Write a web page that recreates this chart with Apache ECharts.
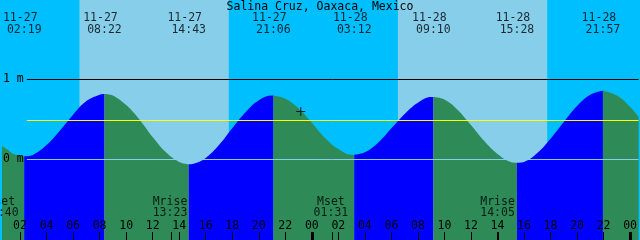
<!DOCTYPE html>
<html><head><meta charset="utf-8">
<script src="https://cdn.jsdelivr.net/npm/echarts@6/dist/echarts.min.js"></script>
<style>html,body{margin:0;padding:0;background:#00BFFF}#c{width:640px;height:240px}</style>
</head><body><div id="c"></div>
<script>
// ---- data (hours counted from 11-27 00:00, heights in metres) ----
const chartTitle = 'Salina Cruz, Oaxaca, Mexico';
const curveHours = [0.64, 1.0, 1.5, 2.317, 3, 4, 5, 6, 7, 8, 8.367, 9, 10, 11, 12, 13, 14, 14.717,
  15, 16, 17, 18, 19, 20, 21, 21.1, 22, 23, 24, 25, 26, 27, 27.2, 28, 29, 30, 31, 32, 33, 33.167,
  34, 35, 36, 37, 38, 39, 39.467, 40, 41, 42, 43, 44, 45, 45.95, 47, 48, 48.64];
const curveHeights = [0.17, 0.13, 0.07, 0.04, 0.06, 0.18, 0.36, 0.56, 0.73, 0.81, 0.82, 0.80, 0.68, 0.50, 0.28, 0.09, -0.03, -0.06,
  -0.056, 0.02, 0.18, 0.39, 0.59, 0.74, 0.80, 0.80, 0.76, 0.64, 0.46, 0.27, 0.13, 0.06, 0.06, 0.09, 0.21, 0.39, 0.57, 0.71, 0.78, 0.78,
  0.75, 0.62, 0.43, 0.23, 0.07, -0.03, -0.04, -0.03, 0.08, 0.26, 0.47, 0.67, 0.81, 0.86, 0.80, 0.66, 0.53];
const extremeHours = [2.317, 8.367, 14.717, 21.1, 27.2, 33.167, 39.467, 45.95];
const extremeDates = ['11-27', '11-27', '11-27', '11-27', '11-28', '11-28', '11-28', '11-28'];
const extremeTimes = ['02:19', '08:22', '14:43', '21:06', '03:12', '09:10', '15:28', '21:57'];
const moonHours = [0.667, 13.383, 25.517, 38.083];
const moonNames = ['Mset', 'Mrise', 'Mset', 'Mrise'];
const moonTimes = ['00:40', '13:23', '01:31', '14:05'];
const sunriseHours = [6.48, 30.49];
const sunsetHours = [17.74, 41.75];
const hourTicks = [2, 4, 6, 8, 10, 12, 14, 16, 18, 20, 22, 24, 26, 28, 30, 32, 34, 36, 38, 40, 42, 44, 46, 48];
const midnightHours = [24, 48];
const labelledLevels = [0, 1];
const markLevel = 0.488;
const nowPoint = [23.17, 0.6];
const axisStart = 0.64, axisEnd = 48.64;

// ---- layout ----
const W = 640, H = 240;
const yMin = -1.00625, yMax = 1.99375;
const FONT = 'DejaVu Sans Mono';
const FS = 11.5;
const yAt = p => yMin + (H - p) / H * (yMax - yMin);      // pixel row -> metres
const xAt = p => axisStart + p / W * (axisEnd - axisStart); // pixel col -> hours
const lineStart = xAt(25);
const moonTicks = moonHours.filter(h => h > xAt(2) && h < xAt(W - 2));

// split curve into rising / falling segments at extremes
const bounds = [axisStart, ...extremeHours, axisEnd];
const segSeries = [];
for (let k = 0; k < bounds.length - 1; k++) {
  const pts = [];
  curveHours.forEach((h, i) => {
    if (h >= bounds[k] - 1e-6 && h <= bounds[k + 1] + 1e-6) pts.push([h, curveHeights[i]]);
  });
  const rising = pts[pts.length - 1][1] > pts[0][1];
  segSeries.push({
    type: 'line', data: pts, smooth: 0.4, showSymbol: false, silent: true, z: 2,
    lineStyle: { width: 0 },
    areaStyle: { color: rising ? '#0000FF' : '#2E8B57', opacity: 1, origin: 'start' }
  });
}

const txt = { color: '#000', fontFamily: FONT, fontSize: FS };
const hiddenLine = { show: false, onZero: false };

const option = {
  animation: false,
  grid: { left: 0, right: 0, top: 0, bottom: 0, show: true, backgroundColor: '#00BFFF', borderWidth: 0 },
  graphic: [{ type: 'text', left: 'center', top: 1, style: { text: chartTitle, font: FS + 'px ' + FONT, fill: '#000' }, z: 100 }],
  xAxis: [
    { type: 'value', min: axisStart, max: axisEnd, position: 'bottom', splitLine: { show: false }, axisLine: hiddenLine,
      axisTick: { show: true, inside: true, length: 8, customValues: hourTicks, lineStyle: { color: '#000', width: 1 } },
      axisLabel: { show: true, inside: true, margin: 8, customValues: hourTicks, hideOverlap: false, ...txt,
        formatter: v => String(Math.round(v) % 24).padStart(2, '0') }, z: 10 },
    { type: 'value', min: axisStart, max: axisEnd, position: 'bottom', offset: 0, splitLine: { show: false }, axisLine: hiddenLine,
      axisTick: { show: true, inside: true, length: 8, customValues: midnightHours, lineStyle: { color: '#000', width: 3 } },
      axisLabel: { show: false }, z: 10 },
    { type: 'value', min: axisStart, max: axisEnd, position: 'bottom', offset: 0, splitLine: { show: false }, axisLine: hiddenLine,
      axisTick: { show: true, inside: true, length: 8, customValues: moonTicks, lineStyle: { color: '#000', width: 1 } },
      axisLabel: { show: false }, z: 10 }
  ],
  yAxis: { type: 'value', min: yMin, max: yMax, position: 'left', splitLine: { show: false }, axisLine: hiddenLine,
    axisTick: { show: false },
    axisLabel: { inside: true, margin: 1, customValues: labelledLevels, formatter: v => v + ' m', ...txt }, z: 10 },
  series: [
    { type: 'line', data: [], silent: true, z: 1,
      markArea: { silent: true, itemStyle: { color: '#87CEEB' },
        data: sunriseHours.map((s, i) => [{ xAxis: s }, { xAxis: sunsetHours[i] }]) } },
    ...segSeries,
    { type: 'line', data: [], silent: true, z: 5,
      markLine: { silent: true, symbol: ['none', 'none'], label: { show: false }, animation: false,
        data: [
          [{ coord: [lineStart, 1], lineStyle: { color: '#000', width: 1, type: 'solid' } }, { coord: [axisEnd, 1] }],
          [{ coord: [lineStart, 0], lineStyle: { color: '#87CEEB', width: 1, type: 'solid' } }, { coord: [axisEnd, 0] }],
          [{ coord: [lineStart, markLevel], lineStyle: { color: '#FFFF00', width: 1, type: 'solid' } }, { coord: [axisEnd, markLevel] }]
        ] } },
    { type: 'scatter', z: 6, silent: true, symbol: 'path://M0,4h9v1h-9z M4,0h1v9h-1z', symbolSize: 9,
      itemStyle: { color: '#000' }, data: [nowPoint] },
    { type: 'scatter', z: 6, silent: true, symbolSize: 0, data: extremeHours.map(h => [h, yAt(18)]),
      label: { show: true, position: 'inside', offset: [-4, 0], ...txt, formatter: p => extremeDates[p.dataIndex] } },
    { type: 'scatter', z: 6, silent: true, symbolSize: 0, data: extremeHours.map(h => [h, yAt(30)]),
      label: { show: true, position: 'inside', ...txt, formatter: p => extremeTimes[p.dataIndex] } },
    { type: 'scatter', z: 6, silent: true, symbolSize: 0, data: moonHours.map(h => [h, yAt(202.5)]),
      label: { show: true, position: 'inside', offset: [-1, 0], ...txt, formatter: p => moonNames[p.dataIndex] } },
    { type: 'scatter', z: 6, silent: true, symbolSize: 0, data: moonHours.map(h => [h, yAt(213.5)]),
      label: { show: true, position: 'inside', offset: [-1, 0], ...txt, formatter: p => moonTimes[p.dataIndex] } }
  ]
};
const chart = echarts.init(document.getElementById('c'), null, { renderer: 'canvas' });
chart.setOption(option);
</script></body></html>
